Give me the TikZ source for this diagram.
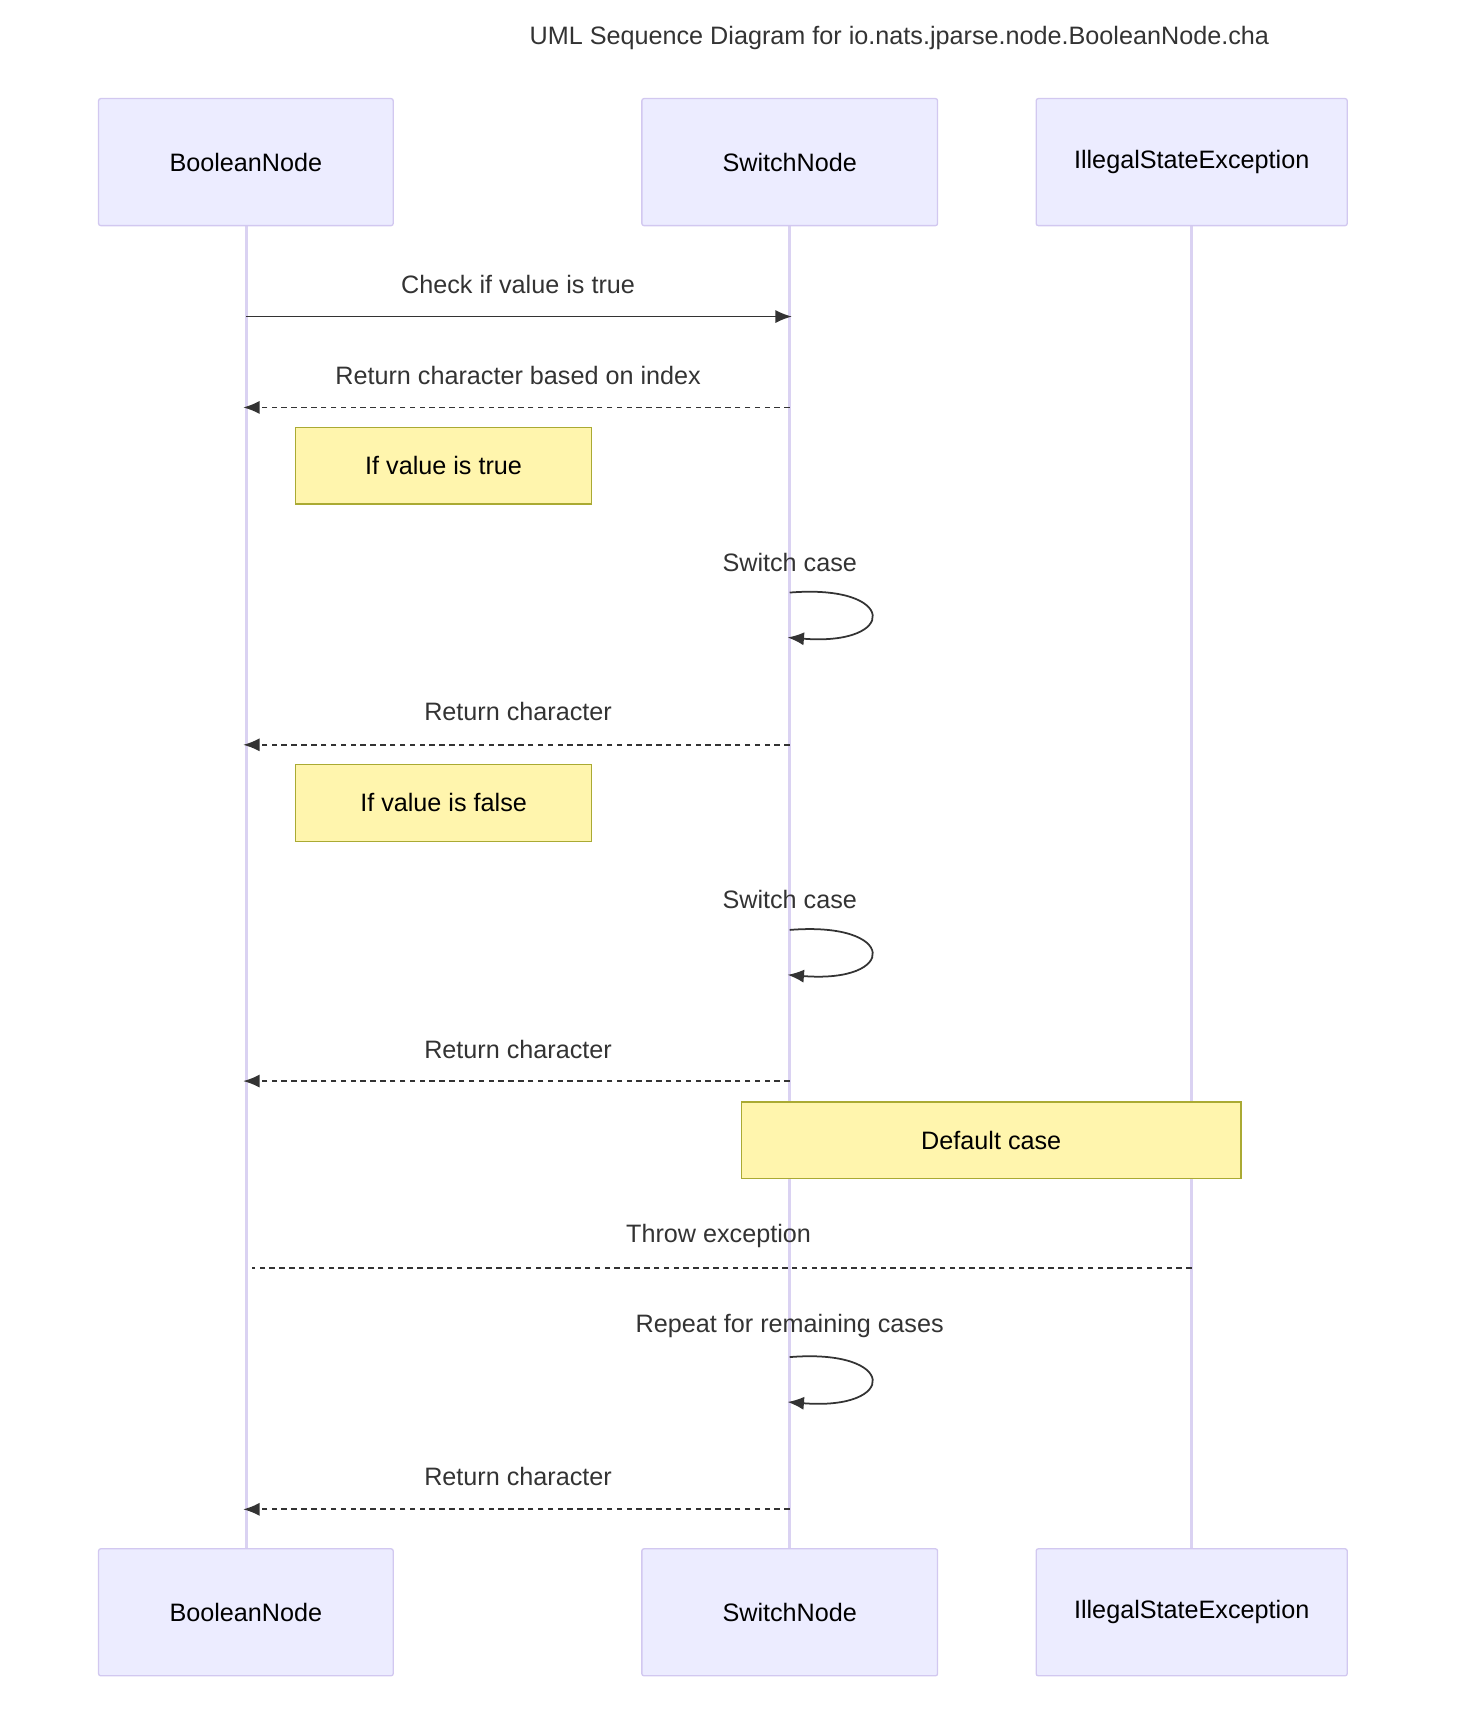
\documentclass[tikz,border=0pt]{standalone}
\usepackage{fontspec}
\setmainfont{Liberation Sans}
\usetikzlibrary{arrows.meta}
\definecolor{actfill}{HTML}{ECECFF}
\definecolor{actline}{HTML}{D2C8F0}
\definecolor{life}{HTML}{DAD2F2}
\definecolor{notefill}{HTML}{FFF5AD}
\definecolor{noteline}{HTML}{AAAA33}
\definecolor{ink}{HTML}{333333}
\begin{document}
\begin{tikzpicture}[x=1pt,y=-1pt,
  actor/.style={draw=actline,fill=actfill,line width=1.2pt,rounded corners=2pt,minimum width=#1,minimum height=116pt,font=\fontsize{23}{26}\selectfont,text=black},
  note/.style={draw=noteline,fill=notefill,line width=1.2pt,minimum height=70pt,font=\fontsize{23}{26}\selectfont,text=black},
  msg/.style={draw=ink,line width=1.6pt,-{Latex[length=15pt,width=12pt]}},
  ret/.style={msg,dash pattern=on 5pt off 4pt},
  lbl/.style={font=\fontsize{23}{26}\selectfont,text=ink},
  life/.style={draw=life,line width=3pt}]
\useasboundingbox (0,0) rectangle (1340,1574);
\node[lbl,anchor=west] (title) at (480,35) {UML Sequence Diagram for io.nats.jparse.node.BooleanNode.cha};
% lifelines
\coordinate (bT) at (225,206); \coordinate (bB) at (225,1414);
\coordinate (sT) at (721,206); \coordinate (sB) at (721,1414);
\coordinate (iT) at (1088,206); \coordinate (iB) at (1088,1414);
\draw[life] (bT) -- (bB); \draw[life] (sT) -- (sB); \draw[life] (iT) -- (iB);
\node[actor=269pt] (b1) at (224.5,148) {BooleanNode};
\node[actor=270pt] (s1) at (721,148) {SwitchNode};
\node[actor=284pt] (i1) at (1088,148) {IllegalStateException};
\node[actor=269pt] (b2) at (224.5,1472) {BooleanNode};
\node[actor=270pt] (s2) at (721,1472) {SwitchNode};
\node[actor=284pt] (i2) at (1088,1472) {IllegalStateException};
% messages
\coordinate (m1a) at (225,289); \coordinate (m1b) at (723,289);
\draw[msg] (m1a) -- (m1b);
\node[lbl] (l1) at (473,260) {Check if value is true};
\coordinate (m2a) at (721,372); \coordinate (m2b) at (222,372);
\draw[ret] (m2a) -- (m2b);
\node[lbl] (l2) at (473,343) {Return character based on index};
\node[note,minimum width=270pt] (n1) at (405,425) {If value is true};
\coordinate (s1a) at (721,541); \coordinate (s1b) at (719,582);
\draw[msg] (s1a) .. controls (820,533) and (820,590) .. (s1b);
\node[lbl] (l3) at (721,514) {Switch case};
\coordinate (m3a) at (721,680); \coordinate (m3b) at (222,680);
\draw[ret] (m3a) -- (m3b);
\node[lbl] (l4) at (473,650) {Return character};
\node[note,minimum width=270pt] (n2) at (405,733) {If value is false};
\coordinate (s2a) at (721,849); \coordinate (s2b) at (719,890);
\draw[msg] (s2a) .. controls (820,841) and (820,898) .. (s2b);
\node[lbl] (l5) at (721,821) {Switch case};
\coordinate (m4a) at (721,987); \coordinate (m4b) at (222,987);
\draw[ret] (m4a) -- (m4b);
\node[lbl] (l6) at (473,958) {Return character};
\node[note,minimum width=456pt] (n3) at (905,1041) {Default case};
\coordinate (m5a) at (1088,1158); \coordinate (m5b) at (230,1158);
\draw[draw=ink,line width=1.6pt,dash pattern=on 5pt off 4pt] (m5a) -- (m5b);
\node[lbl] (l7) at (656,1128) {Throw exception};
\coordinate (s3a) at (721,1239); \coordinate (s3b) at (719,1280);
\draw[msg] (s3a) .. controls (820,1231) and (820,1288) .. (s3b);
\node[lbl] (l8) at (721,1211) {Repeat for remaining cases};
\coordinate (m6a) at (721,1378); \coordinate (m6b) at (222,1378);
\draw[ret] (m6a) -- (m6b);
\node[lbl] (l9) at (473,1348) {Return character};
\end{tikzpicture}
\end{document}
